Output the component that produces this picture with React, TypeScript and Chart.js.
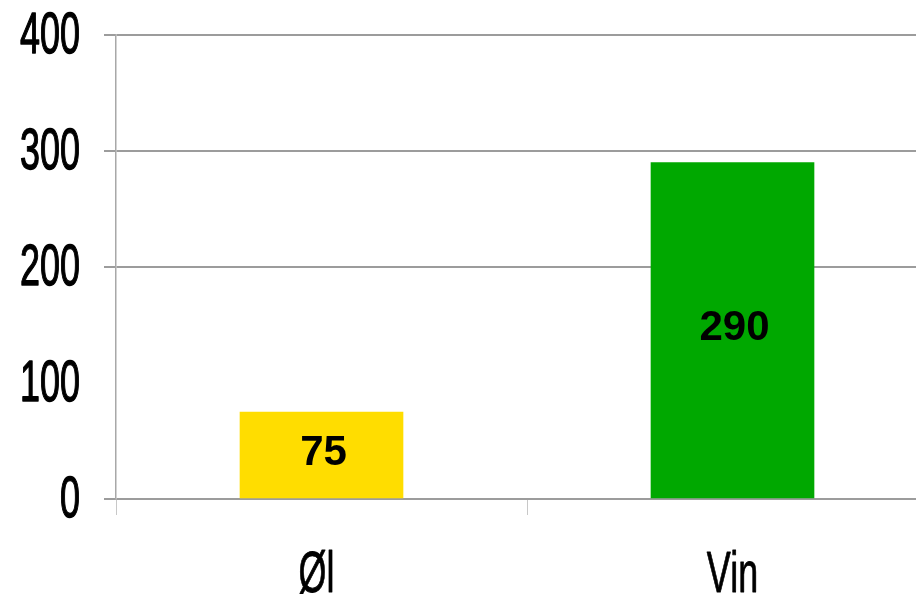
import React, { useEffect, useRef } from "react";
import { Chart, registerables } from "chart.js";

Chart.register(...registerables);

const categories = ["Øl", "Vin"];
const values = [75, 290];
const barColors = ["#FFDD00", "#00A800"];
const yTickValues = [0, 100, 200, 300, 400];
const hiddenGridValues = [100];

const FONT = '"Liberation Sans", Arial, sans-serif';

const customText = {
  id: "customText",
  afterDraw(chart: any) {
    const ctx = chart.ctx;
    const y = chart.scales.y;
    const x = chart.scales.x;
    ctx.save();
    ctx.fillStyle = "#000";
    ctx.strokeStyle = "#000";
    ctx.lineWidth = 1.4;
    ctx.lineJoin = "round";
    // y tick labels (condensed)
    ctx.font = `57px ${FONT}`;
    ctx.textAlign = "right";
    ctx.textBaseline = "middle";
    yTickValues.forEach((v) => {
      const py = y.getPixelForValue(v);
      ctx.save();
      ctx.translate(80, py + 2);
      ctx.scale(0.63, 1);
      ctx.fillText(String(v), 0, 0);
      ctx.strokeText(String(v), 0, 0);
      ctx.restore();
    });
    // x labels
    ctx.textAlign = "center";
    ctx.textBaseline = "alphabetic";
    ctx.lineWidth = 0.8;
    categories.forEach((c, i) => {
      const px = x.getPixelForValue(i);
      ctx.save();
      ctx.translate(px - (i === 0 ? 5 : 0), 592);
      ctx.scale(0.63, 1);
      ctx.fillText(c, 0, 0);
      ctx.strokeText(c, 0, 0);
      ctx.restore();
    });
    // value labels
    ctx.font = `bold 42px ${FONT}`;
    ctx.textAlign = "center";
    ctx.textBaseline = "middle";
    const meta = chart.getDatasetMeta(0);
    meta.data.forEach((bar: any, i: number) => {
      const cy = (bar.y + bar.base) / 2;
      ctx.fillText(String(values[i]), bar.x + 2, cy - 2);
    });
    ctx.restore();
  },
};

export default function App() {
  const ref = useRef<HTMLCanvasElement | null>(null);
  useEffect(() => {
    if (!ref.current) return;
    const chart = new Chart(ref.current, {
      type: "bar",
      data: {
        labels: categories,
        datasets: [
          {
            data: values,
            backgroundColor: barColors,
            borderWidth: 0,
            barThickness: 163,
          },
        ],
      },
      options: {
        responsive: false,
        animation: false,
        layout: { padding: { top: 35, right: 2, left: 0, bottom: 0 } },
        plugins: {
          legend: { display: false },
          tooltip: { enabled: false },
        },
        scales: {
          x: {
            offset: true,
            grid: {
              display: true,
              offset: true,
              drawOnChartArea: false,
              drawTicks: true,
              tickLength: 16,
              color: "#c8c8c8",
              lineWidth: 1,
            },
            border: { display: false },
            ticks: { display: false },
            afterFit: (s: any) => {
              s.height = 95;
            },
          },
          y: {
            min: 0,
            max: 400,
            ticks: { display: false, stepSize: 100 },
            grid: {
              tickLength: 12,
              lineWidth: 2,
              color: (c: any) =>
                c.tick && hiddenGridValues.includes(c.tick.value)
                  ? "rgba(0,0,0,0)"
                  : "#9c9c9c",
            },
            border: { display: true, color: "#a8a8a8", width: 1.5 },
            afterFit: (s: any) => {
              s.width = 116;
            },
          },
        },
      },
      plugins: [customText],
    });
    return () => chart.destroy();
  }, []);
  return (
    <div
      style={{
        position: "fixed",
        left: 0,
        top: 0,
        width: 916,
        height: 594,
        overflow: "hidden",
        background: "#fff",
      }}
    >
      <canvas
        ref={ref}
        width={940}
        height={594}
        style={{ width: 940, height: 594, display: "block" }}
      />
    </div>
  );
}
